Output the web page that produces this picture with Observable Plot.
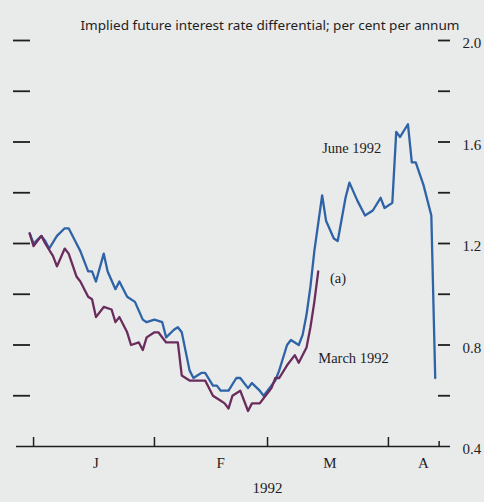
<!DOCTYPE html>
<html><head><meta charset="utf-8">
<script src="https://cdn.jsdelivr.net/npm/d3@7"></script>
<script src="https://cdn.jsdelivr.net/npm/@observablehq/plot@0.6"></script>
<style>
html,body{margin:0;padding:0;background:#e9eaea;}
#chart svg{display:block;background:#e9eaea;}
</style></head><body><div id="chart"></div>
<script>
const titleText = "Implied future interest rate differential; per cent per annum";

const juneDates = ["1991-12-31","1992-01-01","1992-01-03","1992-01-04","1992-01-05","1992-01-07","1992-01-09","1992-01-10","1992-01-12","1992-01-13",
"1992-01-15","1992-01-16","1992-01-17","1992-01-19","1992-01-20","1992-01-22","1992-01-23","1992-01-25","1992-01-27","1992-01-29",
"1992-01-30","1992-02-01","1992-02-03","1992-02-04","1992-02-06","1992-02-07","1992-02-08","1992-02-10","1992-02-11","1992-02-13",
"1992-02-14","1992-02-16","1992-02-17","1992-02-18","1992-02-20","1992-02-22","1992-02-23","1992-02-25","1992-02-26","1992-02-28",
"1992-02-29","1992-03-01","1992-03-03","1992-03-04","1992-03-06","1992-03-07","1992-03-09","1992-03-10","1992-03-11","1992-03-12",
"1992-03-13","1992-03-15","1992-03-16","1992-03-18","1992-03-19","1992-03-21","1992-03-22","1992-03-24","1992-03-26","1992-03-28",
"1992-03-30","1992-03-31","1992-04-02","1992-04-03","1992-04-04","1992-04-06","1992-04-07","1992-04-08","1992-04-10","1992-04-12",
"1992-04-13"];
const juneValues = [1.24,1.20,1.23,1.21,1.18,1.23,1.26,1.26,1.20,1.17,
1.09,1.09,1.05,1.16,1.09,1.02,1.05,0.99,0.97,0.90,
0.89,0.90,0.89,0.83,0.86,0.87,0.85,0.70,0.67,0.69,
0.69,0.64,0.64,0.62,0.62,0.67,0.67,0.63,0.65,0.62,
0.60,0.62,0.66,0.70,0.80,0.82,0.80,0.84,0.92,1.03,
1.17,1.39,1.29,1.22,1.21,1.38,1.44,1.37,1.31,1.33,
1.38,1.34,1.36,1.64,1.62,1.67,1.52,1.52,1.43,1.31,
0.67];

const marchDates = ["1991-12-31","1992-01-01","1992-01-03","1992-01-04","1992-01-06","1992-01-07","1992-01-09","1992-01-10","1992-01-12","1992-01-13",
"1992-01-15","1992-01-16","1992-01-17","1992-01-19","1992-01-21","1992-01-22","1992-01-23","1992-01-25","1992-01-26","1992-01-28",
"1992-01-29","1992-01-30","1992-02-01","1992-02-02","1992-02-04","1992-02-06","1992-02-07","1992-02-08","1992-02-10","1992-02-12",
"1992-02-14","1992-02-16","1992-02-18","1992-02-19","1992-02-20","1992-02-21","1992-02-23","1992-02-25","1992-02-26","1992-02-28",
"1992-02-29","1992-03-02","1992-03-03","1992-03-04","1992-03-06","1992-03-08","1992-03-09","1992-03-11","1992-03-12","1992-03-13",
"1992-03-14"];
const marchValues = [1.24,1.19,1.23,1.20,1.15,1.11,1.18,1.16,1.07,1.05,
0.99,0.98,0.91,0.95,0.94,0.89,0.91,0.85,0.80,0.81,
0.78,0.83,0.85,0.85,0.81,0.81,0.81,0.68,0.66,0.66,
0.66,0.60,0.58,0.57,0.55,0.60,0.62,0.54,0.57,0.57,
0.59,0.63,0.67,0.67,0.72,0.76,0.73,0.79,0.87,0.97,
1.09];

const yTicks = [0.6,0.8,1.0,1.2,1.4,1.6,1.8,2.0];
const yLabelTicks = [0.4,0.8,1.2,1.6,2.0];
const monthTicks = ["1992-01-01","1992-02-01","1992-03-01","1992-04-01"];
const shortTicks = ["1992-04-14"];
const monthLabels = ["J","F","M","A"];
const monthLabelDates = ["1992-01-17","1992-02-18","1992-03-17","1992-04-10"];
const yearLabel = "1992";
const yearLabelDate = "1992-03-01";

const seriesLabels = [
  {text:"June 1992", date:"1992-03-15", value:1.574},
  {text:"(a)", date:"1992-03-17", value:1.062},
  {text:"March 1992", date:"1992-03-14", value:0.747}
];

const june = juneDates.map((d,i)=>({date:new Date(d), value:juneValues[i]}));
const march = marchDates.map((d,i)=>({date:new Date(d), value:marchValues[i]}));

const serif = "Liberation Serif, Times New Roman, serif";
const ink = "#1e1e1e";

const svg = Plot.plot({
  width: 484, height: 502,
  marginLeft: 16, marginRight: 34, marginTop: 40, marginBottom: 56,
  style: {background:"#e9eaea", color: ink},
  x: {type:"utc", domain:[new Date(Date.UTC(1991,11,27,15)), new Date(Date.UTC(1992,3,16,22))], axis:null},
  y: {domain:[0.4,2.0], axis:null},
  marks: [
    Plot.ruleY([0.4], {stroke: ink, strokeWidth: 1.5}),
    Plot.tickY(yTicks, {stroke: ink, strokeWidth: 1.8, insetLeft: -3, insetRight: 420}),
    Plot.tickY(yTicks, {stroke: ink, strokeWidth: 1.8, insetLeft: 422, insetRight: 0}),
    Plot.tickX(monthTicks, {x: d=>new Date(d), stroke: ink, strokeWidth: 1.5, insetTop: 397}),
    Plot.tickX(shortTicks, {x: d=>new Date(d), stroke: ink, strokeWidth: 1.5, insetTop: 401}),
    Plot.text(yLabelTicks, {y: d=>d, text: d=>d.toFixed(1), frameAnchor:"right", textAnchor:"start", dx: 12, dy: 3, fontFamily: serif, fontSize: 15, fill: ink}),
    Plot.text(monthLabels, {x: (d,i)=>new Date(monthLabelDates[i]), text: d=>d, frameAnchor:"bottom", dy: 21, fontFamily: serif, fontSize: 15, fill: ink}),
    Plot.text([yearLabel], {x: ()=>new Date(yearLabelDate), text: d=>d, frameAnchor:"bottom", dy: 46, fontFamily: serif, fontSize: 15, fill: ink}),
    Plot.text([titleText], {text: d=>d, frameAnchor:"top-right", textAnchor:"end", dx: 9, dy: -20, fontFamily: "Noto Sans, sans-serif", fontSize: 13, fill: ink}),
    Plot.line(june, {x:"date", y:"value", stroke:"#2f63a7", strokeWidth: 2.3}),
    Plot.line(march, {x:"date", y:"value", stroke:"#6a2c5c", strokeWidth: 2.3}),
    Plot.text(seriesLabels, {x: d=>new Date(d.date), y:"value", text:"text", textAnchor:"start", fontFamily: serif, fontSize: 14.5, fill: ink})
  ]
});
d3.select(svg).selectAll("text").filter(function(){return this.textContent.startsWith("Implied");})
  .attr("textLength", 379).attr("lengthAdjust", "spacingAndGlyphs");
document.getElementById("chart").appendChild(svg);
</script></body></html>
